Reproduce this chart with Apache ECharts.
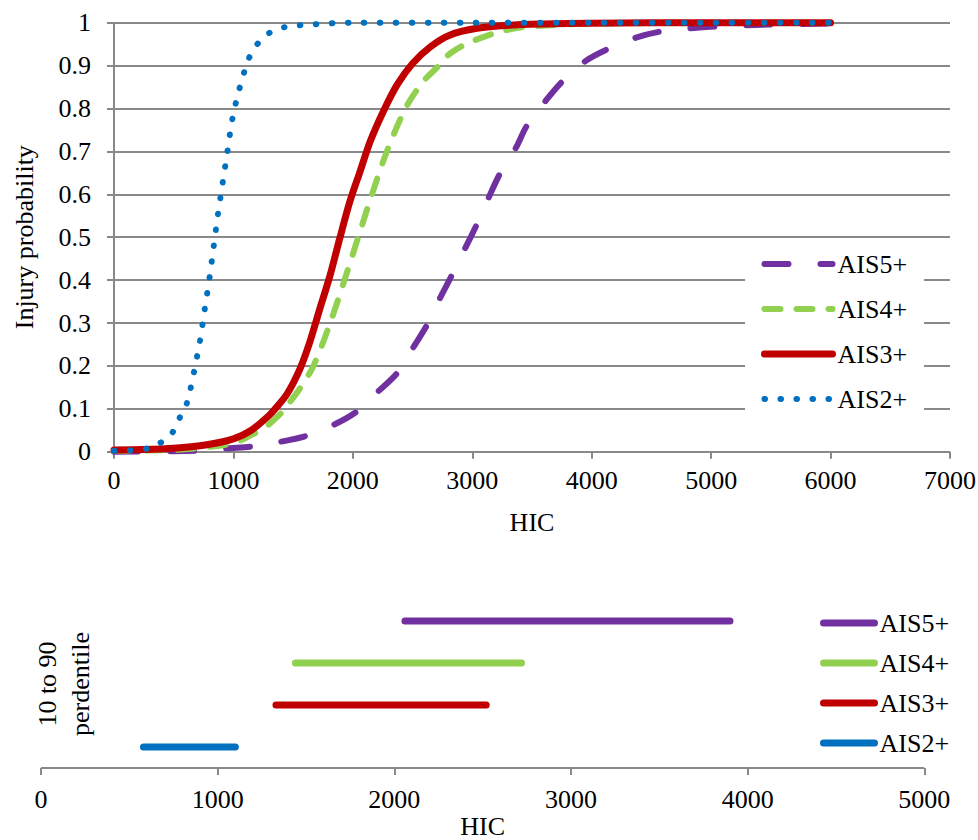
<!DOCTYPE html>
<html><head><meta charset="utf-8">
<script src="https://cdn.jsdelivr.net/npm/echarts@6/dist/echarts.min.js"></script>
<style>html,body{margin:0;padding:0;background:#fff;}#chart{width:978px;height:840px;}</style>
</head><body>
<div id="chart"></div>
<script>
// ---------- data ----------
const seriesNames = ['AIS5+', 'AIS4+', 'AIS3+', 'AIS2+'];
const seriesColors = ['#7030A0', '#92D050', '#C00000', '#0070C0'];

const ais2X = [0, 130, 270, 390, 490, 550, 610, 670, 720, 760, 800, 835, 870, 910, 950, 990, 1050, 1130, 1200, 1300, 1420, 1550, 2000, 3000, 4000, 5000, 6000];
const ais2P = [0.002, 0.003, 0.007, 0.021, 0.045, 0.079, 0.113, 0.186, 0.259, 0.333, 0.406, 0.479, 0.553, 0.627, 0.70, 0.774, 0.846, 0.917, 0.95, 0.976, 0.989, 0.994, 1, 1, 1, 1, 1];

const ais3X = [0, 250, 500, 750, 1000, 1150, 1300, 1350, 1450, 1560, 1640, 1720, 1810, 1890, 1975, 2060, 2145, 2255, 2370, 2500, 2650, 2810, 3040, 3300, 3600, 4000, 5000, 6000];
const ais3P = [0.004, 0.005, 0.008, 0.015, 0.03, 0.05, 0.085, 0.1, 0.135, 0.195, 0.256, 0.33, 0.412, 0.497, 0.583, 0.653, 0.723, 0.793, 0.855, 0.905, 0.944, 0.971, 0.987, 0.994, 0.997, 0.999, 1, 1];

const ais4X = [0, 500, 750, 1000, 1180, 1290, 1400, 1430, 1550, 1670, 1810, 1930, 2045, 2160, 2285, 2440, 2580, 2720, 2800, 2930, 3020, 3180, 3290, 3440, 3700, 4000, 5000, 6000];
const ais4P = [0.002, 0.004, 0.01, 0.02, 0.043, 0.062, 0.09, 0.1, 0.145, 0.2, 0.3, 0.4, 0.5, 0.6, 0.7, 0.8, 0.86, 0.9, 0.925, 0.948, 0.959, 0.975, 0.983, 0.99, 0.995, 0.998, 1, 1];

const ais5X = [0, 500, 750, 970, 1150, 1390, 1610, 1835, 2030, 2210, 2370, 2510, 2620, 2730, 2830, 2940, 3035, 3140, 3230, 3370, 3455, 3620, 3750, 3950, 4130, 4370, 4570, 4830, 5030, 5500, 6000];
const ais5P = [0, 0.001, 0.003, 0.008, 0.012, 0.023, 0.037, 0.062, 0.093, 0.14, 0.183, 0.245, 0.295, 0.358, 0.412, 0.474, 0.528, 0.594, 0.647, 0.711, 0.759, 0.82, 0.862, 0.911, 0.938, 0.965, 0.979, 0.987, 0.991, 0.996, 0.998];

// 10 to 90 percentile ranges (order: AIS2+, AIS3+, AIS4+, AIS5+)
const rangeNames = ['AIS2+', 'AIS3+', 'AIS4+', 'AIS5+'];
const rangeColors = ['#0070C0', '#C00000', '#92D050', '#7030A0'];
const p10 = [580, 1330, 1440, 2060];
const p90 = [1100, 2520, 2720, 3900];
const rowPos = [0.5, 1.5, 2.5, 3.5];

// ---------- styling ----------
const FONT = '"Liberation Serif", "Times New Roman", serif';
const GRAY = '#898989';
const zip = (xs, ys) => xs.map((x, i) => [x, ys[i]]);
const plain = v => String(Math.round(v * 1000) / 1000);

const curveData = {
  'AIS5+': zip(ais5X, ais5P),
  'AIS4+': zip(ais4X, ais4P),
  'AIS3+': zip(ais3X, ais3P),
  'AIS2+': zip(ais2X, ais2P)
};
const curveLine = {
  'AIS5+': { width: 6, type: [24, 32], cap: 'round' },
  'AIS4+': { width: 6, type: [16, 16], cap: 'round' },
  'AIS3+': { width: 7, type: 'solid', cap: 'round' },
  'AIS2+': { width: 6, type: [0.5, 15.5], cap: 'round' }
};
const axisLineStyle = { color: GRAY, width: 2, type: 'solid', cap: 'butt' };
const labelStyle = { fontSize: 26, color: '#000', fontFamily: FONT };

const chart = echarts.init(document.getElementById('chart'), null, { renderer: 'svg' });
chart.setOption({
  animation: false,
  textStyle: { fontFamily: FONT },
  grid: [
    { left: 114, right: 28, top: 22.7, bottom: 840 - 451.7, containLabel: false, outerBoundsMode: 'none' },
    { left: 41, right: 53.7, top: 600, bottom: 72, containLabel: false, outerBoundsMode: 'none' }
  ],
  xAxis: [{
    gridIndex: 0, type: 'value', min: 0, max: 7000, interval: 1000,
    name: 'HIC', nameLocation: 'middle', nameGap: 58, nameTextStyle: labelStyle,
    axisLine: { show: true, onZero: false, lineStyle: axisLineStyle },
    axisTick: { show: true, length: 7, lineStyle: axisLineStyle },
    axisLabel: Object.assign({ margin: 16, formatter: plain }, labelStyle),
    splitLine: { show: false }
  }, {
    gridIndex: 1, type: 'value', min: 0, max: 5000, interval: 1000,
    name: 'HIC', nameLocation: 'middle', nameGap: 45, nameTextStyle: labelStyle,
    axisLine: { show: true, onZero: false, lineStyle: axisLineStyle },
    axisTick: { show: true, length: 7, lineStyle: axisLineStyle },
    axisLabel: Object.assign({ margin: 18, formatter: plain }, labelStyle),
    splitLine: { show: false }
  }],
  yAxis: [{
    gridIndex: 0, type: 'value', min: 0, max: 1, interval: 0.1,
    name: 'Injury probability', nameLocation: 'middle', nameGap: 77, nameRotate: 90, nameTextStyle: labelStyle,
    axisLine: { show: true, onZero: false, lineStyle: axisLineStyle },
    axisTick: { show: true, length: 7, lineStyle: axisLineStyle },
    axisLabel: Object.assign({ margin: 23, formatter: plain }, labelStyle),
    splitLine: { show: true, lineStyle: axisLineStyle }
  }, {
    gridIndex: 1, type: 'value', min: 0, max: 4,
    name: '10 to 90\nperdentile', nameLocation: 'middle', nameRotate: 90, nameGap: -56,
    nameTextStyle: { fontSize: 26, lineHeight: 33, color: '#000', fontFamily: FONT, align: 'center' },
    axisLine: { show: false }, axisTick: { show: false }, axisLabel: { show: false },
    splitLine: { show: false }
  }],
  legend: [{
    orient: 'vertical', left: 745, top: 239, z: 20,
    backgroundColor: '#fff', padding: [12, 17, 12, 16],
    itemWidth: 68, itemHeight: 10, itemGap: 19,
    textStyle: { fontSize: 26, lineHeight: 26, color: '#000', fontFamily: FONT },
    itemStyle: { opacity: 0 },
    data: seriesNames.map(n => ({ name: n, lineStyle: Object.assign({}, curveLine[n]) }))
  }, {
    orient: 'vertical', left: 820, top: 610, padding: 0, z: 20,
    itemWidth: 51, itemHeight: 10, itemGap: 14,
    textStyle: { fontSize: 26, lineHeight: 26, color: '#000', fontFamily: FONT },
    itemStyle: { opacity: 0 },
    data: seriesNames.map(n => ({ name: n, lineStyle: { width: 7, type: 'solid', cap: 'round' } }))
  }],
  series: seriesNames.map((n, i) => ({
    name: n, type: 'line', data: curveData[n],
    xAxisIndex: 0, yAxisIndex: 0,
    z: 2 + i,
    symbol: 'none', showSymbol: false, smooth: 0.3, clip: false,
    lineStyle: Object.assign({ color: seriesColors[i] }, curveLine[n]),
    itemStyle: { color: seriesColors[i] },
    emphasis: { disabled: true }
  })).concat(rangeNames.map((n, i) => ({
    name: n, type: 'line', xAxisIndex: 1, yAxisIndex: 1,
    data: [[p10[i], rowPos[i]], [p90[i], rowPos[i]]],
    symbol: 'none', showSymbol: false, clip: false,
    lineStyle: { color: rangeColors[i], width: 7, cap: 'round', type: 'solid' },
    itemStyle: { color: rangeColors[i] },
    emphasis: { disabled: true }
  })))
});
</script>
</body></html>
